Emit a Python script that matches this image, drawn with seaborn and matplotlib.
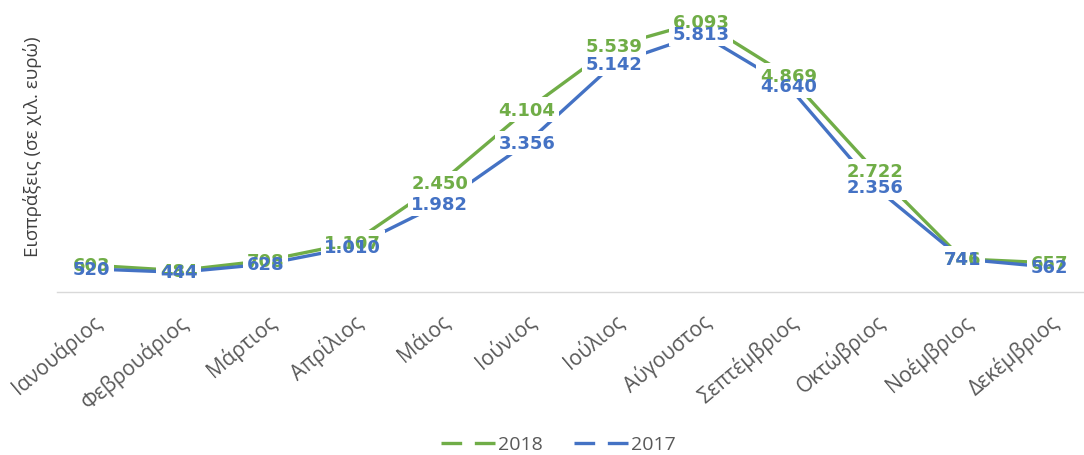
import numpy as np
import pandas as pd
import seaborn as sns
import matplotlib.pyplot as plt
from matplotlib.lines import Line2D

months = ["Ιανουάριος", "Φεβρουάριος", "Μάρτιος", "Απρίλιος", "Μάιος", "Ιούνιος",
          "Ιούλιος", "Αύγουστος", "Σεπτέμβριος", "Οκτώβριος", "Νοέμβριος", "Δεκέμβριος"]
v2018 = [603, 484, 708, 1107, 2450, 4104, 5539, 6093, 4869, 2722, 746, 657]
v2017 = [520, 444, 628, 1010, 1982, 3356, 5142, 5813, 4640, 2356, 741, 562]
years = ["2018", "2017"]
colors = {"2018": "#70AD47", "2017": "#4472C4"}

sns.set_style("white")
plt.rcParams['font.family'] = ['Open Sans', 'DejaVu Sans']

df = pd.DataFrame({
    "month": list(range(12)) * 2,
    "value": v2018 + v2017,
    "year": ["2018"] * 12 + ["2017"] * 12,
})

fig = plt.figure(figsize=(10.84, 4.56), dpi=100)
ax = fig.add_axes([48 / 1084, 1 - 293 / 456, 1045 / 1084, 293 / 456])
sns.lineplot(data=df, x="month", y="value", hue="year", hue_order=years,
             palette=colors, linewidth=2.4, ax=ax, legend=False, zorder=2)

def fmt(v):
    return f"{v:,}".replace(",", ".")

# white boxes cut the lines around the data labels
for yr, vals in (("2018", v2018), ("2017", v2017)):
    for i, v in enumerate(vals):
        ax.text(i, v, fmt(v), ha="center", va="center", fontsize=13,
                fontweight="bold", family="DejaVu Sans", color="white", zorder=3,
                bbox=dict(facecolor="white", edgecolor="none", pad=2.5))
for yr, vals in (("2018", v2018), ("2017", v2017)):
    for i, v in enumerate(vals):
        ax.text(i, v, fmt(v), ha="center", va="center", fontsize=13,
                fontweight="bold", family="DejaVu Sans", color=colors[yr], zorder=4)

ax.set_xlim(-0.5, 11.5)
ax.set_ylim(0, 6600)
ax.set_yticks([])
ax.set_xticks(range(12))
ax.set_xticklabels(months, rotation=40, ha="right", rotation_mode="anchor",
                   fontsize=15, color="#595959")
ax.tick_params(axis="x", length=0, pad=13)
ax.set_xlabel("")
ax.set_ylabel("Εισπράξεις (σε χιλ. ευρώ)", fontsize=13.5, color="#404040", labelpad=4)
for s in ["top", "right", "left"]:
    ax.spines[s].set_visible(False)
ax.spines["bottom"].set_color("#D9D9D9")
ax.spines["bottom"].set_linewidth(1)
ax.spines["bottom"].set_bounds(-0.4, 11.5)

handles = [Line2D([0], [0], color=colors[y], lw=2.4, dashes=(6.2, 3.8)) for y in years]
fig.legend(handles, years, loc="lower center", ncol=2, frameon=False,
           bbox_to_anchor=(0.515, -0.035), fontsize=14, labelcolor="#595959",
           handlelength=2.85, handletextpad=0.1, columnspacing=1.6)

fig.savefig("out.png", dpi=100)
